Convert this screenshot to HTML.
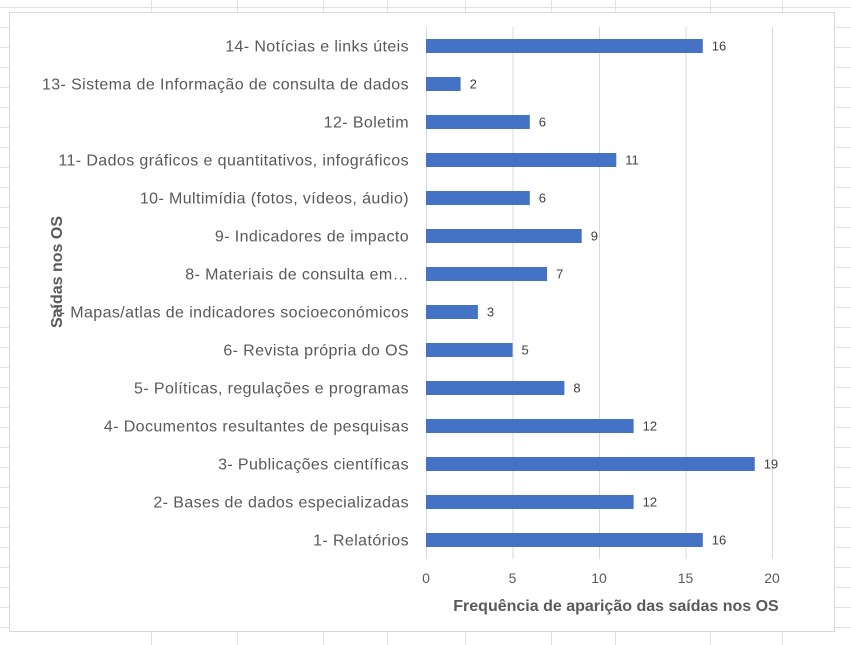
<!DOCTYPE html>
<html><head><meta charset="utf-8"><style>
body{margin:0;width:851px;height:645px;overflow:hidden;background:#fff;font-family:"Liberation Sans",sans-serif}
svg{position:absolute;left:0;top:0}
</style></head><body>
<svg width="851" height="645">
<g id="bg"></g>
<rect x="9.5" y="12.5" width="825" height="619" fill="#fff" stroke="#d9d9d9"/>
<g id="plot"></g>
<text x="616" y="611" text-anchor="middle" font-size="16" font-weight="bold" fill="#595959">Frequência de aparição das saídas nos OS</text>
<text transform="translate(62,272) rotate(-90)" text-anchor="middle" font-size="16" font-weight="bold" fill="#595959">Saídas nos  OS</text>
</svg>
<script>
const categories=["1- Relatórios","2- Bases de dados especializadas","3- Publicações científicas","4- Documentos resultantes de pesquisas","5- Políticas, regulações e programas","6- Revista própria do OS","7- Mapas/atlas de indicadores socioeconómicos","8- Materiais de consulta em…","9- Indicadores de impacto","10- Multimídia (fotos, vídeos, áudio)","11- Dados gráficos e quantitativos, infográficos","12- Boletim","13- Sistema de Informação de consulta de dados","14- Notícias e links úteis"];
const values=[16,12,19,12,8,5,3,7,9,6,11,6,2,16];
const xTicks=[0,5,10,15,20];
const NS="http://www.w3.org/2000/svg";
function mk(t,a,p){const e=document.createElementNS(NS,t);for(const k in a)e.setAttribute(k,a[k]);p.appendChild(e);return e;}
const bg=document.getElementById('bg');
for(let y=7;y<645;y+=20){const l=mk('line',{x1:0,x2:851,y1:y+.5,y2:y+.5,stroke:'#e1e1e1'},bg);

}
[151,237,323,387,465,551,615,710,782].forEach(x=>{const l=mk('line',{x1:x+.5,x2:x+.5,y1:0,y2:645,stroke:'#e1e1e1'},bg);

});
const plot=document.getElementById('plot');
const x0=426,x1=772,plotTop=27,plotBot=559;
const xs=v=>x0+(v-0)/(20-0)*(x1-x0);
const n=categories.length,band=(plotBot-plotTop)/n;
const ys=i=>plotBot-band*(i+0.5);
xTicks.forEach(t=>{const g=mk('line',{x1:xs(t)+.5,x2:xs(t)+.5,y1:plotTop,y2:plotBot,stroke:'#d9d9d9'},plot);


const tx=mk('text',{x:xs(t),y:583,'text-anchor':'middle','font-size':14,fill:'#595959'},plot);tx.textContent=t;

});
categories.forEach((c,i)=>{const y=ys(i);
const r=mk('rect',{x:xs(0),y:y-7,width:xs(values[i])-xs(0),height:14,fill:'#4472c4'},plot);


const v=mk('text',{x:xs(values[i])+9,y:y+4.5,'font-size':13,fill:'#404040'},plot);v.textContent=values[i];


const lb=mk('text',{x:409,y:y+5.5,'text-anchor':'end','font-size':16,'letter-spacing':'0.4',fill:'#595959'},plot);lb.textContent=c;

});
</script>
</body></html>
